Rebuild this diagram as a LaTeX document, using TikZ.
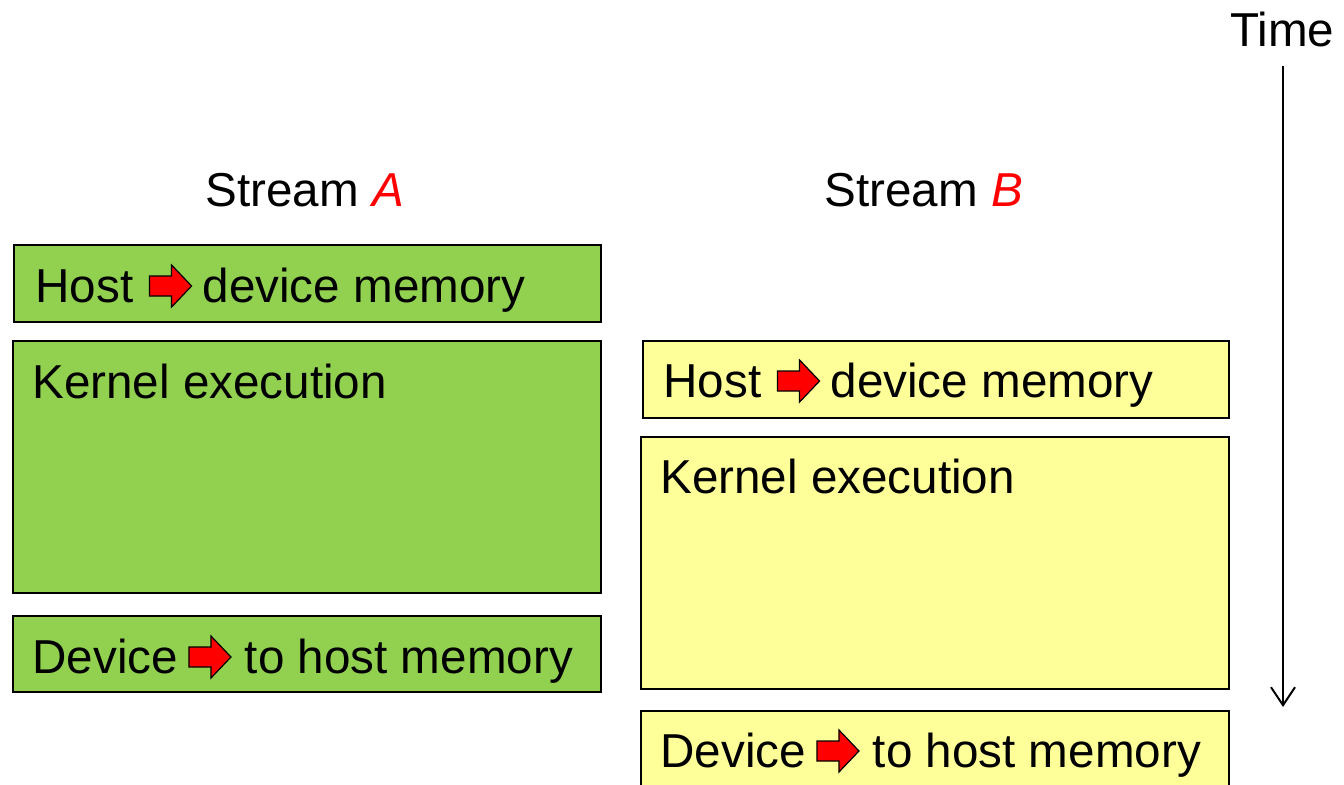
\documentclass[tikz,border=0pt]{standalone}
\usepackage{fontspec}
\setmainfont{Liberation Sans}
\usetikzlibrary{arrows.meta}
\definecolor{boxgreen}{HTML}{92D050}
\definecolor{boxyellow}{HTML}{FFFF99}
\newcommand\rarr{\tikz[baseline={(0,-16)},x=0.5pt,y=0.5pt]\draw[fill=red,draw=black,line width=0.6pt,line join=miter] (0,10)--(22,10)--(22,21)--(42,0)--(22,-21)--(22,-10)--(0,-10)--cycle;}
\tikzset{
  box/.style={draw=black,line width=1pt,anchor=north west,inner sep=0pt},
  gbox/.style={box,fill=boxgreen},
  ybox/.style={box,fill=boxyellow},
  lbl/.style={anchor=base west,inner sep=0pt,font=\fontsize{23.8}{28}\selectfont},
}
\begin{document}
\begin{tikzpicture}[x=0.5pt,y=0.5pt]
\useasboundingbox (0,0) rectangle (1344,-784);
\clip (0,0) rectangle (1344,-784);
% Stream A boxes
\node[gbox,minimum width=293.5pt,minimum height=38.5pt] (a1) at (13,-244) {};
\node[gbox,minimum width=294pt,minimum height=126pt] (a2) at (12,-340) {};
\node[gbox,minimum width=294pt,minimum height=38pt] (a3) at (12,-615) {};
% Stream B boxes
\node[ybox,minimum width=293pt,minimum height=38.5pt] (b1) at (642,-340) {};
\node[ybox,minimum width=294pt,minimum height=126pt] (b2) at (640,-436) {};
\node[ybox,minimum width=294pt,minimum height=50pt] (b3) at (640,-710) {};
% labels
\node[lbl] (ta1) at (35,-302) {Host\hspace{0.33em}\rarr\hspace{0.22em}device memory};
\node[lbl] (ta2) at (32,-398) {Kernel execution};
\node[lbl] (ta3) at (32,-673) {Device\hspace{0.22em}\rarr\hspace{0.28em}to host memory};
\node[lbl] (tb1) at (663,-397) {Host\hspace{0.33em}\rarr\hspace{0.22em}device memory};
\node[lbl] (tb2) at (660,-493) {Kernel execution};
\node[lbl] (tb3) at (660,-767) {Device\hspace{0.22em}\rarr\hspace{0.28em}to host memory};
% headings
\node[lbl] (sa) at (205,-206) {Stream \textcolor{red}{\itshape A}};
\node[lbl] (sb) at (824,-206) {Stream \textcolor{red}{\itshape B}};
\node[lbl] (time) at (1230,-46) {Time};
% time arrow
\coordinate (tstart) at (1283,-66);
\coordinate (tend) at (1283,-707);
\draw[line width=1pt,-{Straight Barb[length=9pt,width=12pt,line width=1pt]}] (tstart) -- (tend);
\end{tikzpicture}
\end{document}
